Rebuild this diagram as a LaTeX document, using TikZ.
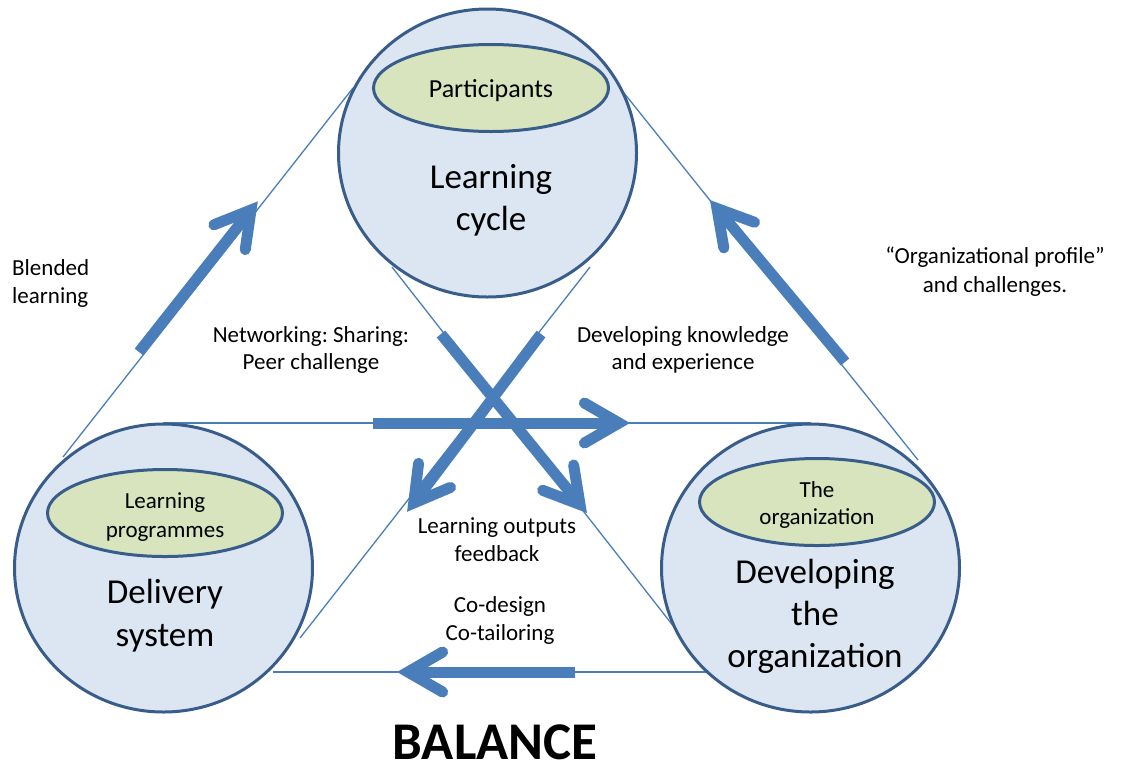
\documentclass[tikz,border=0pt]{standalone}
\usepackage{fontspec}
\setmainfont{Carlito}
\usetikzlibrary{shapes.geometric,calc}
\definecolor{cfill}{HTML}{DCE6F2}
\definecolor{cline}{HTML}{385D8A}
\definecolor{efill}{HTML}{D7E4BD}
\definecolor{arr}{HTML}{4A7EBB}
\newcommand\fs[2]{\fontsize{#1}{#2}\selectfont}
\newcommand\bigarrow[2]{%
  \draw[shaft] (#1) -- (#2);
  \draw[barb] ($(#2)!40pt!30:(#1)$) -- (#2) -- ($(#2)!40pt!-30:(#1)$);
}
\frenchspacing
\begin{document}
\begin{tikzpicture}[x=1pt,y=-1pt,
  thinline/.style={draw=arr, line width=1.3pt},
  bigcircle/.style={ellipse, draw=cline, fill=cfill, line width=3pt,
    minimum width=298pt, minimum height=288pt, inner sep=0pt},
  greenoval/.style={ellipse, draw=cline, fill=efill, line width=3pt,
    minimum width=235pt, minimum height=87pt, inner sep=0pt},
  shaft/.style={draw=arr, line width=11pt, shorten >=2pt},
  barb/.style={draw=arr, line width=11pt, line cap=round, line join=miter},
  lbl/.style={anchor=base, align=center, inner sep=0pt},
]
\useasboundingbox (0,0) rectangle (1131,769);

% thin triangle lines
\coordinate (l1a) at (353,88);  \coordinate (l1b) at (63,457);
\coordinate (l2a) at (620,88);  \coordinate (l2b) at (918,460);
\coordinate (l3a) at (163,423); \coordinate (l3b) at (811,423);
\coordinate (l4a) at (273,672); \coordinate (l4b) at (707,672);
\coordinate (l5a) at (392,267); \coordinate (l5b) at (678,632);
\coordinate (l6a) at (590,267); \coordinate (l6b) at (300,638);
\foreach \i in {1,...,6} { \draw[thinline] (l\i a) -- (l\i b); }

% circles
\node[bigcircle] (lc) at (487.5,153) {};
\node[bigcircle] (ds) at (163.5,568) {};
\node[bigcircle] (do) at (810.5,568) {};

% green ovals
\node[greenoval] (pa) at (491,88) {};
\node[greenoval] (lp) at (165,513) {};
\node[greenoval] (or) at (817,502) {};

% thick arrows
\coordinate (a1s) at (139,352); \coordinate (a1t) at (251,210);
\coordinate (a2s) at (845,362); \coordinate (a2t) at (717,208.5);
\coordinate (a3s) at (373,423); \coordinate (a3t) at (619,423);
\coordinate (a4s) at (441,334); \coordinate (a4t) at (580,504.5);
\coordinate (a5s) at (541,334); \coordinate (a5t) at (413.7,503);
\coordinate (a6s) at (575,672); \coordinate (a6t) at (408,672);
\bigarrow{a1s}{a1t}
\bigarrow{a2s}{a2t}
\bigarrow{a3s}{a3t}
\bigarrow{a4s}{a4t}
\bigarrow{a5s}{a5t}
\bigarrow{a6s}{a6t}

% texts (base anchor = baseline of the last line)
\node[lbl, font=\fs{26}{31}] (tpa) at (491,97) {Participants};
\node[lbl, font=\fs{35}{42}] (tlc) at (491,230) {Learning\\cycle};
\node[lbl, font=\fs{23}{29}] (tlp) at (165,537) {Learning\\programmes};
\node[lbl, font=\fs{35}{43}] (tds) at (165,646) {Delivery\\system};
\node[lbl, font=\fs{23}{27}] (tor) at (817,524) {The\\organization};
\node[lbl, font=\fs{35}{42}] (tdo) at (815,667) {Developing\\the\\organization};
\node[lbl, align=left, anchor=base west, font=\fs{23}{28}] (tbl) at (12,303) {Blended\\learning};
\node[lbl, font=\fs{23}{27}] (tnw) at (311,369) {Networking: Sharing:\\Peer challenge};
\node[lbl, font=\fs{23}{27}] (tdk) at (683,369) {Developing knowledge\\and experience};
\node[lbl, font=\fs{23}{29}] (tog) at (995,292) {“Organizational profile”\\and challenges.};
\node[lbl, font=\fs{23}{28}] (tlo) at (497,561) {Learning outputs\\feedback};
\node[lbl, font=\fs{23}{28}] (tcd) at (500,640) {Co-design\\Co-tailoring};
\node[lbl, font=\bfseries\fs{53}{60}] (tba) at (495,759) {BALANCE};
\end{tikzpicture}
\end{document}
